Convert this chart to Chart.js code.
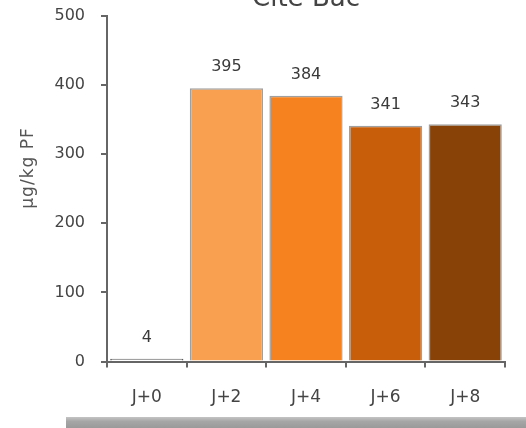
<!DOCTYPE html>
<html>
<head>
<meta charset="utf-8">
<script src="https://cdn.jsdelivr.net/npm/chart.js@4"></script>
<style>
  html, body { margin: 0; padding: 0; background: #fff; overflow: hidden; }
  #wrap { position: relative; width: 526px; height: 428px; overflow: hidden; }
  #c { display: block; position: absolute; left: 0; top: -10px; }
  #strip {
    position: absolute; left: 66px; top: 417px; width: 460px; height: 11px;
    background: linear-gradient(#c4c4c4, #a6a6a6 40%, #9a9a9a);
  }
</style>
</head>
<body>
<div id="wrap">
  <canvas id="c" width="526" height="438"></canvas>
  <div id="strip"></div>
</div>
<script>
const chartTitle = 'Cite Bac';
const categories = ['J+0', 'J+2', 'J+4', 'J+6', 'J+8'];
const values = [4, 395, 384, 341, 343];
const barColors = ['#ffffff', '#F9A050', '#F5821F', '#C85E0A', '#884207'];
const edgeColors = ['#5a5a5a', '#a0a0a0', '#a0a0a0', '#a0a0a0', '#a0a0a0'];
const yTicks = [0, 100, 200, 300, 400, 500];
const yTitle = 'µg/kg PF';

const FONT = "'DejaVu Sans', 'Liberation Sans', sans-serif";

// Value labels above each bar, the rotated unit label and the title at the top edge
const extras = {
  id: 'extras',
  afterDatasetsDraw(chart) {
    const ctx = chart.ctx;
    const meta = chart.getDatasetMeta(0);
    ctx.save();
    ctx.fillStyle = '#3a3a3a';
    ctx.font = '16px ' + FONT;
    ctx.textAlign = 'center';
    ctx.textBaseline = 'middle';
    meta.data.forEach((bar, i) => {
      ctx.fillText(String(values[i]), bar.x, bar.y - 21);
    });

    const area = chart.chartArea;
    ctx.font = '26px ' + FONT;
    ctx.fillStyle = '#444';
    ctx.textBaseline = 'alphabetic';
    ctx.fillText(chartTitle, (area.left + area.right) / 2, 16);

    ctx.translate(29, 178);
    ctx.rotate(-Math.PI / 2);
    ctx.font = '17px ' + FONT;
    ctx.fillStyle = '#555';
    ctx.textBaseline = 'middle';
    if ('letterSpacing' in ctx) ctx.letterSpacing = '1px';
    ctx.fillText(yTitle, 0, 0);
    ctx.restore();
  }
};

new Chart(document.getElementById('c'), {
  type: 'bar',
  data: {
    labels: categories,
    datasets: [{
      data: values,
      backgroundColor: barColors,
      borderColor: edgeColors,
      borderWidth: 1.5,
      categoryPercentage: 1,
      barPercentage: 0.92
    }]
  },
  options: {
    responsive: false,
    animation: false,
    events: [],
    layout: { padding: { top: 0, right: 21, bottom: 0, left: 0 } },
    plugins: { legend: { display: false }, tooltip: { enabled: false } },
    scales: {
      x: {
        grid: { display: true, drawOnChartArea: false, drawTicks: true, tickLength: 6, color: '#666', lineWidth: 2, offset: true },
        border: { display: true, color: '#666', width: 2 },
        ticks: { color: '#444', font: { family: FONT, size: 17 }, padding: 20 }
      },
      y: {
        min: 0,
        max: 500,
        afterBuildTicks(scale) { scale.ticks = yTicks.map(v => ({ value: v })); },
        afterFit(scale) { scale.width = 107; },
        grid: { display: true, drawOnChartArea: false, drawTicks: true, tickLength: 6, color: '#666', lineWidth: 2 },
        border: { display: true, color: '#666', width: 2 },
        ticks: { color: '#444', font: { family: FONT, size: 16 }, padding: 16 }
      }
    }
  },
  plugins: [extras]
});
</script>
</body>
</html>
